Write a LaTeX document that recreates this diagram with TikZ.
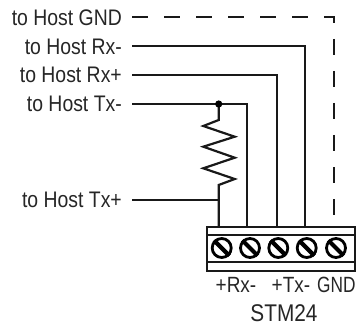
\documentclass[tikz,border=0pt]{standalone}
\usepackage{fontspec}
\setmainfont{Liberation Sans}
\newcommand{\tallt}[1]{\scalebox{1}[1.16]{#1}}
\begin{document}
\begin{tikzpicture}[x=1pt,y=-1pt,
  wire/.style={line width=2.2pt,draw=black!90,line join=miter},
  gndwire/.style={wire,dash pattern=on 16pt off 16pt},
  lab/.style={inner sep=0pt,anchor=base east,font=\fontsize{19.4}{22}\selectfont,text=black!85},
  lab2/.style={inner sep=0pt,anchor=base,font=\fontsize{19}{22}\selectfont,text=black!85},
  lab3/.style={inner sep=0pt,anchor=base,font=\fontsize{20.8}{24}\selectfont,text=black!85},
  housing/.style={line width=2.2pt,draw=black!90},
  screw/.style={circle,draw=black,line width=2.8pt,minimum size=19pt,inner sep=0pt}]
\path[use as bounding box] (0,0) rectangle (356,326);
\clip (0,0) rectangle (356,326);
\node[lab] (lgnd) at (122,26) {\tallt{to Host GND}};
\node[lab] (lrxm) at (122,55) {\tallt{to Host Rx-}};
\node[lab] (lrxp) at (122,83) {\tallt{to Host Rx+}};
\node[lab] (ltxm) at (122,112) {\tallt{to Host Tx-}};
\node[lab] (ltxp) at (122,207.5) {\tallt{to Host Tx+}};
\coordinate (sgnd) at (132,17);
\coordinate (srxm) at (132,46);
\coordinate (srxp) at (132,75);
\coordinate (stxm) at (132,104);
\coordinate (stxp) at (132,200);
\coordinate (tgnd) at (334,216);
\coordinate (trxm) at (305.3,227);
\coordinate (trxp) at (276.7,227);
\coordinate (ttxm) at (247.3,227);
\coordinate (ttxp) at (218.7,227);
\coordinate (junc) at (218.7,104);
\coordinate (rtop) at (218.7,120);
\coordinate (rbot) at (218.7,185);
\draw[gndwire] (sgnd) -- (334,17) -- (tgnd);
\draw[wire] (srxm) -- (305.3,46) -- (trxm);
\draw[wire] (srxp) -- (276.7,75) -- (trxp);
\draw[wire] (stxm) -- (247.3,104) -- (ttxm);
\draw[wire] (stxp) -- (218.7,200);
\draw[wire] (junc) -- (rtop) -- (203.3,126) -- (234.7,136.7) -- (203.3,146.7) -- (234.7,157.7) -- (203.3,168.3) -- (234.7,179) -- (rbot) -- (ttxp);
\fill[black] (junc) circle (3.6pt);
\draw[housing] (207.3,227) rectangle (355.5,270.7);
\draw[housing] (207.3,234.7) -- (355.5,234.7);
\draw[housing] (207.3,261.7) -- (355.5,261.7);
\foreach \n/\x in {a/221.7,b/250,c/278.3,d/306.7,e/336}{
  \node[screw] (\n) at (\x,248) {};
  \draw[line width=4.2pt] (\n.135) -- (\n.-45);
}
\node[lab2] (l1) at (236,292) {\tallt{+Rx-}};
\node[lab2] (l2) at (291,292) {\tallt{+Tx-}};
\node[lab2,anchor=base east] (l3) at (355.8,292) {\scalebox{0.91}[1.16]{GND}};
\node[lab3] (l4) at (284,321.5) {\tallt{STM24}};
\end{tikzpicture}
\end{document}
